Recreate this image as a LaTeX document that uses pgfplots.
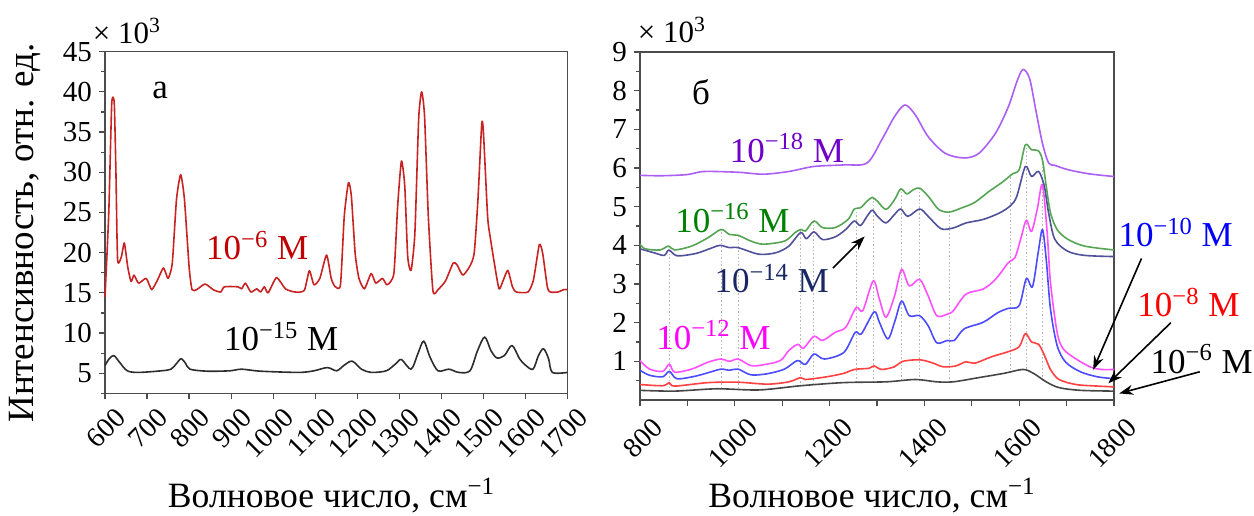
\documentclass[border=0pt]{standalone}
\usepackage{fontspec}
\setmainfont{Liberation Serif}
\usepackage{pgfplots}
\pgfplotsset{compat=1.18}
\usetikzlibrary{arrows.meta}
\definecolor{cRedA}{RGB}{200,35,35}
\definecolor{tRedA}{RGB}{192,0,0}
\definecolor{cBlkA}{RGB}{45,45,45}
\definecolor{cPur}{RGB}{172,95,245}
\definecolor{tPur}{RGB}{112,0,200}
\definecolor{cGrn}{RGB}{85,165,85}
\definecolor{tGrn}{RGB}{0,128,0}
\definecolor{cNav}{RGB}{80,80,155}
\definecolor{tNav}{RGB}{25,40,100}
\definecolor{cMag}{RGB}{255,80,255}
\definecolor{tMag}{RGB}{255,0,255}
\definecolor{cBlu}{RGB}{75,75,255}
\definecolor{tBlu}{RGB}{0,0,255}
\definecolor{cRed}{RGB}{255,65,65}
\definecolor{tRed}{RGB}{255,0,0}
\definecolor{cGry}{RGB}{70,70,70}
\tikzset{xtl/.style={font=\fontsize{14}{16}\selectfont, rotate=45, anchor=north east, inner sep=0pt}}
\pgfplotsset{mystyle/.style={scale only axis, anchor=south west,
  axis line style={black!70, line width=0.6pt},
  tick style={black!70, line width=0.6pt},
  tick align=outside, xtick pos=bottom, ytick pos=left,
  major tick length=3pt, minor tick length=2pt,
  scaled ticks=false,
  yticklabel style={font=\fontsize{14.5}{16}\selectfont},
  /pgf/number format/assume math mode=true,
  /pgf/number format/1000 sep={},
  xticklabels={},
  clip=false,
  every axis plot/.append style={line width=0.8pt, line join=round}}}
\newcommand{\lab}{\fontsize{17.5}{20}\selectfont}
\begin{document}
\begin{tikzpicture}
\useasboundingbox (0,0) rectangle (627pt,257.5pt);
% ---------- panel a ----------
\begin{axis}[mystyle, at={(52.5pt,60.85pt)}, width=231.25pt, height=170.8pt,
  xmin=600, xmax=1700, ymin=2.5, ymax=45,
  xtick={600,700,...,1700}, ytick={5,10,...,45}, minor ytick={2.5,7.5,...,42.5}]
\addplot[cBlkA, smooth, tension=0.5] coordinates {(600,5.96)(610,6.8)(621,7.2)(634,6.4)(653,5.3)(680,5.1)(734,5.3)(757,5.5)(770,6.2)(781,6.8)(792,6.2)(802,5.5)(843,5.25)(897,5.3)(925,5.5)(970,5.25)(1061,5.1)(1097,5.3)(1129,5.7)(1151,5.3)(1169,6)(1188,6.5)(1210,5.5)(1233,5.1)(1269,5.3)(1292,6.2)(1305,6.7)(1328,5.5)(1344,7.4)(1358,9)(1373,7)(1392,5.3)(1418,5.5)(1441,5.1)(1468,5.3)(1486,7.8)(1503,9.5)(1518,7.8)(1532,6.9)(1550,7.2)(1568,8.45)(1586,6.8)(1600,6)(1618,5.5)(1631,7.2)(1643,8.05)(1655,6.8)(1664,5.1)(1700,5.1)};
\addplot[cRedA, smooth, tension=0.35] coordinates {(600,14.5)(609,25)(616,38.5)(622,38.6)(626,30)(630,19.1)(639,19.5)(646,21.2)(654,18.25)(662,16.4)(669,17.2)(680,16.2)(698,16.8)(711,15.4)(725,16.6)(739,18.1)(750,16.8)(760,18.7)(770,26.6)(780,29.7)(789,26.6)(800,18.25)(807,15.4)(818,15.4)(838,16.1)(857,15.4)(875,15.1)(884,15.75)(916,15.75)(925,15.5)(934,16.2)(947,15.1)(961,15.5)(970,15.1)(979,15.75)(988,15)(1008,16.9)(1029,15.5)(1052,15.1)(1074,15.3)(1086,17.75)(1097,16)(1111,16.8)(1127,19.7)(1138,16.8)(1147,15.8)(1160,16)(1169,24.5)(1179,28.7)(1186,27)(1195,19.9)(1204,16.8)(1217,15.5)(1233,17.4)(1244,16.2)(1260,16.8)(1271,16)(1287,17.4)(1296,25.75)(1305,31.4)(1313,28.25)(1320,19.5)(1328,17.8)(1337,22.4)(1346,36.6)(1353,40)(1360,37)(1369,24.5)(1380,15.25)(1392,15.4)(1410,16.5)(1428,18.7)(1437,18.5)(1451,17.2)(1467,18.25)(1478,19.9)(1487,26.6)(1496,36)(1500,35)(1510,24.5)(1516,22)(1526,18.7)(1537,15.5)(1546,16.4)(1558,17.8)(1569,15.75)(1578,15.1)(1606,15.1)(1619,16.6)(1633,21)(1641,19.9)(1652,15.75)(1659,15.1)(1677,15.1)(1691,15.4)(1700,15.4)};
\pgfplotsinvokeforeach{600,700,800,900,1000,1100,1200,1300,1400,1500,1600,1700}{
  \node[xtl] at ([xshift=4.5pt,yshift=-6.5pt]axis cs:#1,2.5) {#1};}
\node[font=\lab] at (axis cs:731,40.2) {а};
\node[font=\lab, text=tRedA] at (axis cs:962,20.9) {10\textsuperscript{−6} М};
\node[font=\lab] at (axis cs:1019,9.55) {10\textsuperscript{−15} М};
\end{axis}
% ---------- panel b ----------
\begin{axis}[mystyle, at={(320pt,57.5pt)}, width=237pt, height=174pt,
  xmin=800, xmax=1800, ymin=0, ymax=9,
  xtick={800,900,...,1800},
  ytick={1,2,...,9}, minor ytick={0.5,1.5,...,8.5},
  every axis plot/.append style={smooth, tension=0.5}]
\addplot[gray!55, densely dotted, line width=0.5pt, sharp plot] coordinates {(862,0.3)(862,3.9)};
\addplot[gray!55, densely dotted, line width=0.5pt, sharp plot] coordinates {(971,0.3)(971,4.4)};
\addplot[gray!55, densely dotted, line width=0.5pt, sharp plot] coordinates {(1007,0.3)(1007,4.26)};
\addplot[gray!55, densely dotted, line width=0.5pt, sharp plot] coordinates {(1139,0.35)(1139,4.4)};
\addplot[gray!55, densely dotted, line width=0.5pt, sharp plot] coordinates {(1167,0.4)(1167,4.6)};
\addplot[gray!55, densely dotted, line width=0.5pt, sharp plot] coordinates {(1256,0.45)(1256,4.9)};
\addplot[gray!55, densely dotted, line width=0.5pt, sharp plot] coordinates {(1292,0.45)(1292,5.2)};
\addplot[gray!55, densely dotted, line width=0.5pt, sharp plot] coordinates {(1352,0.5)(1352,5.4)};
\addplot[gray!55, densely dotted, line width=0.5pt, sharp plot] coordinates {(1390,0.5)(1390,5.45)};
\addplot[gray!55, densely dotted, line width=0.5pt, sharp plot] coordinates {(1452,0.45)(1452,4.85)};
\addplot[gray!55, densely dotted, line width=0.5pt, sharp plot] coordinates {(1582,0.7)(1582,5.8)};
\addplot[gray!55, densely dotted, line width=0.5pt, sharp plot] coordinates {(1615,0.8)(1615,6.55)};
\addplot[gray!55, densely dotted, line width=0.5pt, sharp plot] coordinates {(1649,0.5)(1649,6.2)};
\addplot[cGry] coordinates {(800,0.25)(873,0.23)(962,0.29)(1051,0.26)(1140,0.37)(1230,0.45)(1319,0.47)(1381,0.53)(1426,0.47)(1461,0.47)(1515,0.58)(1568,0.69)(1608,0.79)(1630,0.69)(1657,0.47)(1684,0.32)(1729,0.25)(1800,0.23)};
\addplot[cRed] coordinates {(800,0.40)(848,0.37)(862,0.45)(873,0.36)(944,0.45)(1007,0.46)(1069,0.41)(1114,0.47)(1139,0.58)(1149,0.53)(1194,0.60)(1230,0.69)(1252,0.79)(1283,0.82)(1294,0.88)(1310,0.79)(1337,0.86)(1354,1.0)(1390,1.04)(1417,0.96)(1439,0.86)(1466,0.88)(1488,0.99)(1506,0.95)(1542,1.12)(1577,1.25)(1600,1.38)(1613,1.72)(1626,1.50)(1641,1.44)(1653,1.16)(1666,0.79)(1684,0.53)(1720,0.40)(1765,0.36)(1800,0.34)};
\addplot[cBlu] coordinates {(800,0.77)(820,0.64)(848,0.60)(862,0.74)(878,0.55)(918,0.62)(953,0.74)(971,0.80)(989,0.77)(1007,0.80)(1034,0.65)(1069,0.68)(1105,0.80)(1132,1.02)(1149,0.92)(1167,1.19)(1189,1.06)(1230,1.23)(1254,1.75)(1267,1.71)(1294,2.28)(1305,2.01)(1323,1.58)(1338,2.05)(1352,2.56)(1368,2.18)(1390,2.18)(1408,1.92)(1426,1.48)(1448,1.54)(1463,1.54)(1484,1.84)(1524,2.01)(1555,2.26)(1577,2.37)(1600,2.44)(1615,3.14)(1628,2.93)(1640,3.81)(1649,4.41)(1657,3.64)(1666,2.35)(1680,1.41)(1698,0.98)(1729,0.73)(1765,0.60)(1800,0.55)};
\addplot[cMag] coordinates {(800,1.02)(820,0.80)(848,0.74)(862,0.93)(873,0.72)(909,0.80)(944,0.98)(971,1.06)(989,1.0)(1007,1.06)(1034,0.89)(1060,0.91)(1096,1.02)(1114,1.28)(1133,1.44)(1145,1.34)(1167,1.65)(1185,1.54)(1212,1.75)(1234,1.88)(1256,2.39)(1270,2.31)(1292,3.08)(1305,2.61)(1319,2.14)(1337,2.69)(1352,3.38)(1368,2.95)(1390,3.12)(1408,2.69)(1426,2.18)(1448,2.22)(1461,2.31)(1488,2.74)(1524,2.87)(1550,3.12)(1577,3.55)(1591,3.68)(1604,4.2)(1615,4.65)(1626,4.36)(1638,4.93)(1649,5.57)(1659,4.33)(1666,3.04)(1680,1.75)(1693,1.32)(1720,1.06)(1751,0.85)(1773,0.79)(1800,0.79)};
\addplot[cNav] coordinates {(800,3.91)(829,3.81)(851,3.74)(861,3.88)(878,3.73)(918,3.79)(953,3.94)(969,4.0)(989,3.94)(1007,3.94)(1051,3.77)(1087,3.81)(1114,3.98)(1139,4.33)(1151,4.17)(1167,4.35)(1185,4.15)(1212,4.22)(1234,4.41)(1252,4.63)(1265,4.51)(1279,4.75)(1290,4.91)(1301,4.75)(1319,4.58)(1337,4.8)(1350,4.94)(1365,4.75)(1390,4.94)(1408,4.75)(1435,4.43)(1461,4.45)(1488,4.58)(1524,4.67)(1559,4.84)(1582,5.03)(1595,5.27)(1613,6.04)(1626,5.78)(1641,5.91)(1653,5.53)(1662,4.84)(1675,4.16)(1702,3.85)(1738,3.74)(1800,3.71)};
\addplot[cGrn] coordinates {(800,4.03)(811,3.91)(842,3.88)(860,3.98)(873,3.88)(909,3.98)(944,4.2)(971,4.41)(989,4.28)(1007,4.26)(1034,4.11)(1060,4.03)(1105,4.11)(1127,4.33)(1140,4.41)(1149,4.37)(1167,4.63)(1185,4.46)(1212,4.46)(1239,4.67)(1252,4.94)(1265,4.97)(1279,5.14)(1290,5.24)(1301,5.14)(1319,4.93)(1337,5.18)(1350,5.46)(1363,5.33)(1377,5.44)(1390,5.48)(1408,5.27)(1430,4.93)(1452,4.86)(1479,4.97)(1506,5.11)(1537,5.4)(1564,5.63)(1586,5.85)(1600,5.96)(1613,6.6)(1626,6.47)(1640,6.45)(1649,6.21)(1657,5.53)(1666,4.84)(1680,4.41)(1702,4.16)(1738,3.98)(1800,3.88)};
\addplot[cPur] coordinates {(800,5.81)(846,5.8)(900,5.83)(935,5.91)(1007,5.89)(1060,5.84)(1114,5.91)(1167,6.04)(1230,6.08)(1279,6.13)(1310,6.73)(1337,7.33)(1359,7.63)(1381,7.37)(1408,6.81)(1444,6.38)(1484,6.26)(1515,6.38)(1550,6.9)(1577,7.58)(1595,8.23)(1608,8.55)(1622,8.31)(1635,7.5)(1649,6.64)(1662,6.13)(1675,6.07)(1702,5.96)(1747,5.85)(1800,5.78)};
\pgfplotsinvokeforeach{800,1000,1200,1400,1600,1800}{
  \node[xtl] at ([xshift=5.75pt,yshift=-8pt]axis cs:#1,0) {#1};}
\node[font=\lab] at (axis cs:928.6,7.97) {б};
\node[font=\lab, text=tPur] at (axis cs:1110,6.52) {10\textsuperscript{−18} М};
\node[font=\lab, text=tGrn] at (axis cs:995,4.70) {10\textsuperscript{−16} М};
\node[font=\lab, text=tNav] at (axis cs:1077.7,3.14) {10\textsuperscript{−14} М};
\node[font=\lab, text=tMag] at (axis cs:955,1.68) {10\textsuperscript{−12} М};
\node[font=\lab, text=tBlu] at (axis cs:1930,4.33) {10\textsuperscript{−10} М};
\node[font=\lab, text=tRed] at (axis cs:1957,2.52) {10\textsuperscript{−8} М};
\node[font=\lab] at (axis cs:1985,1.06) {10\textsuperscript{−6} М};
\draw[-{Stealth[length=7pt,width=5pt]}, line width=0.8pt] (axis cs:1207,3.41) -- (axis cs:1274,4.23);
\draw[-{Stealth[length=7pt,width=5pt]}, line width=0.8pt] (axis cs:1858,3.66) -- (axis cs:1756,0.78);
\draw[-{Stealth[length=7pt,width=5pt]}, line width=0.8pt] (axis cs:1920,2.0) -- (axis cs:1788,0.43);
\draw[-{Stealth[length=7pt,width=5pt]}, line width=0.8pt] (axis cs:1981,0.73) -- (axis cs:1811,0.17);
\end{axis}
% ---------- outer texts ----------
\node[rotate=90, font=\fontsize{18.5}{22}\selectfont] at (12.5pt,141pt) {Интенсивность, отн. ед.};
\node[anchor=base, font=\fontsize{17.8}{21}\selectfont] at (165.75pt,4pt) {Волновое число, см\textsuperscript{−1}};
\node[anchor=base, font=\fontsize{17.8}{21}\selectfont] at (436pt,4pt) {Волновое число, см\textsuperscript{−1}};
\node[font=\fontsize{15.5}{17}\selectfont] at (63.5pt,242pt) {× 10\textsuperscript{3}};
\node[font=\fontsize{15.5}{17}\selectfont] at (336pt,242.5pt) {× 10\textsuperscript{3}};
\end{tikzpicture}
\end{document}
